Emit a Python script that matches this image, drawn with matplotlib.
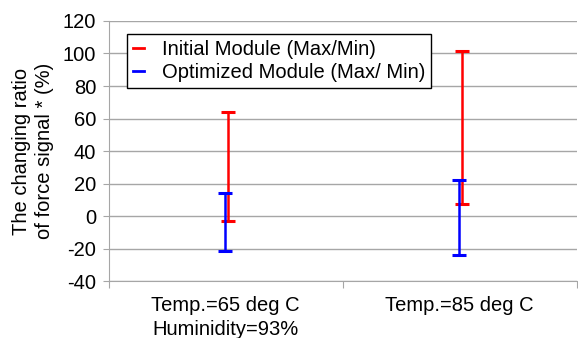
import matplotlib
matplotlib.use("Agg")
import matplotlib.pyplot as plt
from matplotlib.lines import Line2D

plt.rcParams["font.family"] = ["Liberation Sans", "DejaVu Sans"]
plt.rcParams["axes.unicode_minus"] = False

# Data
conditions = ["Temp.=65 deg C\nHuminidity=93%", "Temp.=85 deg C"]
initial_max = [64, 101.5]
initial_min = [-3, 7.5]
optimized_max = [14.5, 22]
optimized_min = [-21.5, -24]
series_names = ["Initial Module (Max/Min)", "Optimized Module (Max/ Min)"]
y_ticks = [-40, -20, 0, 20, 40, 60, 80, 100, 120]

fig = plt.figure(figsize=(5.78, 3.38), dpi=100)
ax = fig.add_axes([0.188, 0.168, 0.81, 0.77])

x = list(range(len(conditions)))
grid_color = "#a6a6a6"

for vmax, vmin, color, dx in [
    (initial_max, initial_min, "red", 0.01),
    (optimized_max, optimized_min, "blue", -0.005),
]:
    centers = [(a + b) / 2 for a, b in zip(vmax, vmin)]
    errs = [(a - b) / 2 for a, b in zip(vmax, vmin)]
    ax.errorbar([i + dx for i in x], centers, yerr=errs, fmt="none",
                ecolor=color, elinewidth=1.8, capsize=5, capthick=2.2, zorder=3)

ax.set_ylim(-40, 120)
ax.set_yticks(y_ticks)
ax.tick_params(axis="y", labelsize=14.5, length=4, color=grid_color, pad=5)
ax.yaxis.grid(True, color=grid_color, lw=1)
ax.set_axisbelow(True)

ax.set_xlim(-0.5, len(conditions) - 0.5)
ax.set_xticks([i - 0.5 for i in range(len(conditions) + 1)])
ax.set_xticklabels([])
ax.tick_params(axis="x", which="major", length=5, color=grid_color)
ax.set_xticks(x, minor=True)
ax.set_xticklabels(conditions, minor=True, fontsize=14.5, linespacing=1.3)
ax.tick_params(axis="x", which="minor", length=0, pad=11)

for side in ["top", "right"]:
    ax.spines[side].set_visible(False)
for side in ["left", "bottom"]:
    ax.spines[side].set_color(grid_color)

ax.set_ylabel("The changing ratio\nof force signal * (%)", fontsize=14.5,
              labelpad=6, linespacing=1.3)

handles = [Line2D([], [], color="red", lw=2),
           Line2D([], [], color="blue", lw=2)]
leg = ax.legend(handles, series_names, loc="upper left",
                bbox_to_anchor=(0.04, 0.95), fontsize=14.5, handlelength=0.5,
                handletextpad=0.9, borderpad=0.3, labelspacing=0.2,
                borderaxespad=0, frameon=True, fancybox=False,
                edgecolor="black", framealpha=1)
leg.get_frame().set_linewidth(1)

fig.savefig("out.png", dpi=100)
